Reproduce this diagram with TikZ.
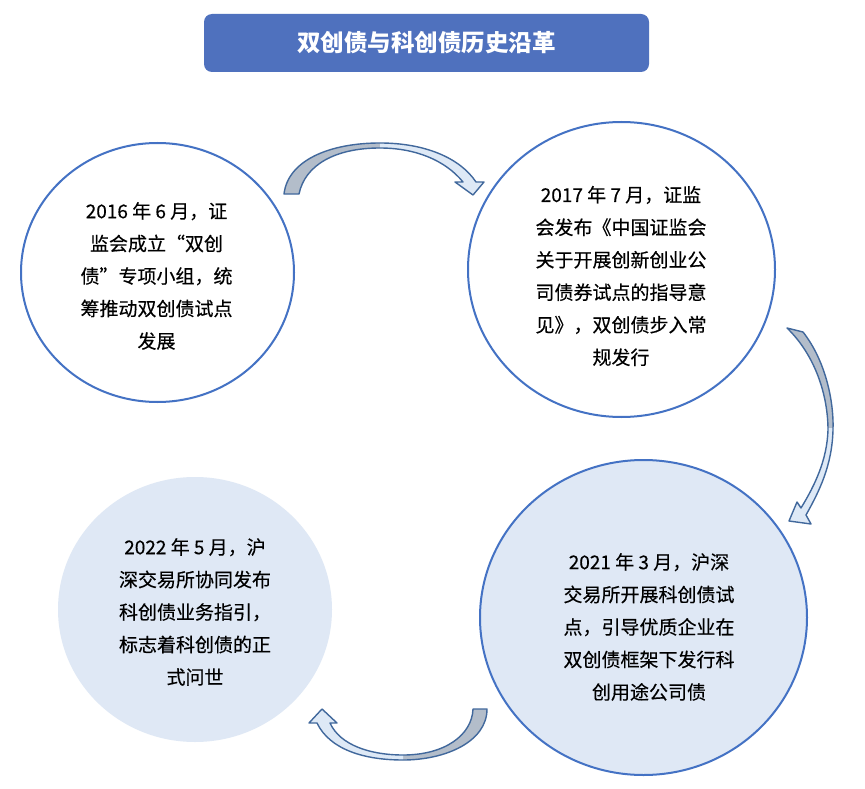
\documentclass[tikz,border=0pt]{standalone}
\usepackage{fontspec}
\newfontfamily\cjk{Noto Sans CJK SC}
\newfontfamily\cjktext{Noto Sans CJK SC}[FakeBold=0.35]
\usetikzlibrary{shapes.geometric}
\definecolor{titleblue}{HTML}{4F71BE}
\definecolor{ringblue}{HTML}{4472C4}
\definecolor{paleblue}{HTML}{DFE8F5}
\definecolor{arrline}{HTML}{41689C}
\definecolor{arrgray}{HTML}{B3BDCA}
\definecolor{arrlight}{HTML}{DEE9F6}
\newcommand\pathArrA{(284,194) .. controls (288,160) and (330,143) .. (380,143) .. controls (425,143) and (460,158) .. (476,182) -- (484,182) -- (473,195) -- (455,182) -- (463,182) .. controls (445,160) and (415,148) .. (380,148) .. controls (335,148) and (305,165) .. (299,194) -- cycle}
\newcommand\pathArrB{(787,328) -- (803,332) .. controls (825,360) and (834,400) .. (833,430) .. controls (832,465) and (820,490) .. (806,515) -- (811,524) -- (789,521) -- (797,502) -- (801,508) .. controls (815,485) and (827,460) .. (828,430) .. controls (828,395) and (815,355) .. (787,328) -- cycle}
\newcommand\pathArrC{(487,709) .. controls (487,742) and (445,760) .. (403,760) .. controls (365,760) and (330,750) .. (317,723) -- (309,723) -- (322,709) -- (337,723) -- (330,723) .. controls (340,745) and (370,755) .. (403,755) .. controls (445,755) and (472,735) .. (473,709) -- cycle}
\begin{document}
\begin{tikzpicture}[x=1pt,y=-1pt,
  ring/.style={ellipse, draw=ringblue, line width=2pt, inner sep=0pt},
  txt/.style={align=center, inner sep=0pt, font=\cjktext\fontsize{19}{32.5}\selectfont, text=black},
  titlebox/.style={rectangle, rounded corners=8pt, fill=titleblue, text=white, minimum width=445pt, minimum height=58pt, inner sep=0pt, font=\cjk\bfseries\fontsize{23.5}{28}\selectfont},
  arrowline/.style={draw=arrline, line width=1.4pt, line join=round}]
\useasboundingbox (0,0) rectangle (865,789);
\fill[white] (0,0) rectangle (865,789);

\node[titlebox] (title) at (426.5,43) {双创债与科创债历史沿革};

\node[ring, fill=white, minimum width=273pt, minimum height=259pt] (c1) at (157.5,272.5) {};
\node[ring, fill=white, minimum width=307pt, minimum height=295pt] (c2) at (621.5,269.5) {};
\node[ring, fill=paleblue, minimum width=327pt, minimum height=315pt] (c3) at (643.5,617.5) {};
\node[ellipse, fill=paleblue, inner sep=0pt, minimum width=274pt, minimum height=265pt] (c4) at (195,609.5) {};

\node[txt] (t1) at (156.5,276) {2016 年 6 月，证\\监会成立“双创\\债”专项小组，统\\筹推动双创债试点\\发展};
\node[txt] (t2) at (621,276) {2017 年 7 月，证监\\会发布《中国证监会\\关于开展创新创业公\\司债券试点的指导意\\见》，双创债步入常\\规发行};
\node[txt] (t3) at (649,627) {2021 年 3 月，沪深\\交易所开展科创债试\\点，引导优质企业在\\双创债框架下发行科\\创用途公司债};
\node[txt] (t4) at (195,612) {2022 年 5 月，沪\\深交易所协同发布\\科创债业务指引，\\标志着科创债的正\\式问世};

% arrow 1 (c1 -> c2)
\begin{scope}\clip (0,0) rectangle (380,789); \fill[arrgray] \pathArrA; \end{scope}
\begin{scope}\clip (380,0) rectangle (865,789); \fill[arrlight] \pathArrA; \end{scope}
\path[arrowline] \pathArrA;
% arrow 2 (c2 -> c3)
\begin{scope}\clip (0,0) rectangle (865,428); \fill[arrgray] \pathArrB; \end{scope}
\begin{scope}\clip (0,428) rectangle (865,789); \fill[arrlight] \pathArrB; \end{scope}
\path[arrowline] \pathArrB;
% arrow 3 (c3 -> c4)
\begin{scope}\clip (403,0) rectangle (865,789); \fill[arrgray] \pathArrC; \end{scope}
\begin{scope}\clip (0,0) rectangle (403,789); \fill[arrlight] \pathArrC; \end{scope}
\path[arrowline] \pathArrC;
\end{tikzpicture}
\end{document}
